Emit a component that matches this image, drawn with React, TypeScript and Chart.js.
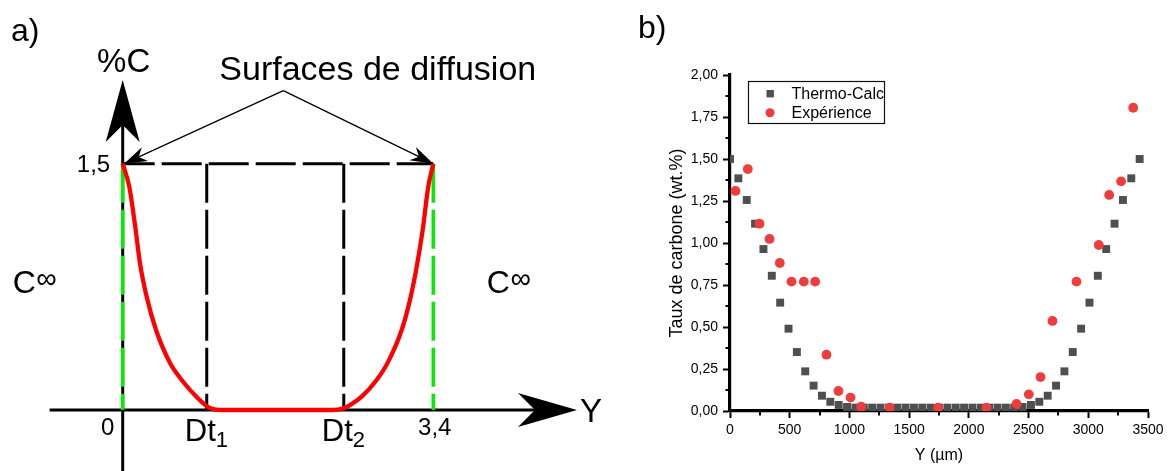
import React, { useEffect, useRef } from 'react';
import { Chart, registerables } from 'chart.js';

Chart.register(...registerables);

const FONT = "'Liberation Sans', Arial, Helvetica, sans-serif";

// ---------------- Panel a : schematic carbon profile ----------------
const profileX = [0, 0.072, 0.142, 0.189, 0.263, 0.365, 0.518, 0.646, 0.81, 0.937, 1.087, 2.302, 2.415, 2.488, 2.616, 2.78, 2.897, 3.054, 3.153, 3.225, 3.284, 3.345, 3.4];
const profileY = [1.5, 1.36, 1.096, 0.895, 0.688, 0.487, 0.286, 0.183, 0.079, 0.018, 0, 0, 0.01, 0.03, 0.081, 0.183, 0.284, 0.487, 0.69, 0.893, 1.096, 1.36, 1.5];
const schemaMarkX = [0, 0.92, 2.42, 3.4];
const schemaMarkText = ['0', 'Dt', 'Dt', '3,4'];
const schemaMarkSub = ['', '1', '2', ''];
const surfaceLevel = 1.5;
const surfaceLevelText = '1,5';
const schemaAxisNames = ['%C', 'Y'];
const farFieldText = 'C';
const farFieldSup = '∞';
const surfaceTitle = 'Surfaces de diffusion';
const annotationApex = [1.758, 1.945];
const annotationTipsX = [0.015, 3.4];
const schemaAxisX = [-0.8, 4.973];
const schemaAxisY = [-0.38, 2.01];
const schemaViewX = [-1.3432, 5.444];
const schemaViewY = [-0.3715, 2.497];

// ---------------- Panel b : measured vs computed profile ----------------
const thermoX = [0, 70, 140, 210, 280, 350, 420, 490, 560, 630, 700, 770, 840, 910, 980, 1050, 1120, 1190, 1260, 1330, 1400, 1470, 1540, 1610, 1680, 1750, 1820, 1890, 1960, 2030, 2100, 2170, 2240, 2310, 2380, 2450, 2520, 2590, 2660, 2730, 2800, 2870, 2940, 3010, 3080, 3150, 3220, 3290, 3360, 3430];
const thermoY = [1.5, 1.385, 1.256, 1.115, 0.964, 0.805, 0.645, 0.49, 0.351, 0.236, 0.151, 0.091, 0.055, 0.036, 0.024,
  0.02, 0.02, 0.02, 0.02, 0.02, 0.02, 0.02, 0.02, 0.02, 0.02, 0.02, 0.02, 0.02, 0.02, 0.02, 0.02, 0.02, 0.02, 0.02, 0.02,
  0.024, 0.036, 0.055, 0.091, 0.151, 0.236, 0.351, 0.49, 0.645, 0.805, 0.964, 1.115, 1.256, 1.385, 1.5];
const expX = [46, 149, 247, 331, 417, 515, 618, 713, 808, 908, 1009, 1098, 1338, 1743, 2148, 2399, 2502, 2600, 2700, 2901, 3088, 3175, 3275, 3376];
const expY = [1.31, 1.44, 1.115, 1.024, 0.881, 0.77, 0.77, 0.77, 0.335, 0.119, 0.08, 0.026, 0.02, 0.02, 0.02, 0.042, 0.099, 0.202, 0.536, 0.77, 0.988, 1.286, 1.367, 1.805];
const seriesNames = ['Thermo-Calc', 'Expérience'];
const xTicks = [0, 500, 1000, 1500, 2000, 2500, 3000, 3500];
const xTickLabels = ['0', '500', '1000', '1500', '2000', '2500', '3000', '3500'];
const yTicks = [0, 0.25, 0.5, 0.75, 1, 1.25, 1.5, 1.75, 2];
const yTickLabels = ['0,00', '0,25', '0,50', '0,75', '1,00', '1,25', '1,50', '1,75', '2,00'];
const xTitle = 'Y (µm)';
const yTitle = 'Taux de carbone (wt.%)';

const GREEN = '#00ee00';
const RED_LINE = '#ff0000';
const GRAY = '#4f4f4f';
const RED_PT = '#f03c3c';

const pts = (xs: number[], ys: number[]) => xs.map((x, i) => ({ x, y: ys[i] }));

function lineDs(data: any[], color: string, width: number, order: number, dash: number[] = [], dashOffset = 0) {
  return {
    data,
    showLine: true,
    borderColor: color,
    backgroundColor: color,
    borderWidth: width,
    borderDash: dash,
    borderDashOffset: dashOffset,
    borderCapStyle: 'butt',
    pointRadius: 0,
    pointHoverRadius: 0,
    tension: 0,
    order,
    clip: false,
  };
}

function stealth(ctx: CanvasRenderingContext2D, tx: number, ty: number, ux: number, uy: number, len: number, half: number, notch: number) {
  const bx = tx - ux * len;
  const by = ty - uy * len;
  const nx = -uy;
  const ny = ux;
  ctx.beginPath();
  ctx.moveTo(tx, ty);
  ctx.lineTo(bx + nx * half, by + ny * half);
  ctx.lineTo(tx - ux * notch, ty - uy * notch);
  ctx.lineTo(bx - nx * half, by - ny * half);
  ctx.closePath();
  ctx.fill();
}

function PanelA() {
  const ref = useRef<HTMLCanvasElement>(null);
  useEffect(() => {
    const canvas = ref.current!;
    const [dt1, dt2] = [schemaMarkX[1], schemaMarkX[2]];
    const right = schemaMarkX[3];
    const datasets: any[] = [
      { ...lineDs(pts(profileX, profileY), RED_LINE, 4.3, 0), cubicInterpolationMode: 'monotone', borderJoinStyle: 'round' },
      lineDs([{ x: 0, y: surfaceLevel }, { x: 0, y: 0 }], GREEN, 3.5, 1, [39, 7]),
      lineDs([{ x: right, y: surfaceLevel }, { x: right, y: 0 }], GREEN, 3.5, 1, [39, 7]),
      lineDs([{ x: 0, y: surfaceLevel }, { x: right, y: surfaceLevel }], '#000', 3, 2, [40, 7], 8),
      lineDs([{ x: dt1, y: surfaceLevel }, { x: dt1, y: 0 }], '#000', 3, 2, [39, 7]),
      lineDs([{ x: dt2, y: surfaceLevel }, { x: dt2, y: 0 }], '#000', 3, 2, [39, 7]),
      lineDs([{ x: 0, y: schemaAxisY[0] }, { x: 0, y: schemaAxisY[1] - 0.15 }], '#000', 3, 3),
      lineDs([{ x: schemaAxisX[0], y: 0 }, { x: schemaAxisX[1] - 0.2, y: 0 }], '#000', 3, 3),
      lineDs([{ x: annotationApex[0], y: annotationApex[1] }, { x: annotationTipsX[0], y: surfaceLevel }], '#000', 1.3, 1),
      lineDs([{ x: annotationApex[0], y: annotationApex[1] }, { x: annotationTipsX[1], y: surfaceLevel }], '#000', 1.3, 1),
    ];

    const deco = {
      id: 'schemaDeco',
      afterDatasetsDraw(chart: any) {
        const ctx: CanvasRenderingContext2D = chart.ctx;
        const X = (v: number) => chart.scales.x.getPixelForValue(v);
        const Y = (v: number) => chart.scales.y.getPixelForValue(v);
        ctx.save();
        ctx.fillStyle = '#000';
        // axis arrowheads
        stealth(ctx, X(0), Y(schemaAxisY[1]), 0, -1, 62, 17, 45);
        stealth(ctx, X(schemaAxisX[1]), Y(0), 1, 0, 59, 17, 42);
        // annotation arrowheads
        const ax = X(annotationApex[0]);
        const ay = Y(annotationApex[1]);
        annotationTipsX.forEach((tv) => {
          const tx = X(tv);
          const ty = Y(surfaceLevel);
          const d = Math.hypot(tx - ax, ty - ay);
          stealth(ctx, tx, ty, (tx - ax) / d, (ty - ay) / d, 23, 7.5, 16);
        });
        ctx.textBaseline = 'alphabetic';
        // panel label
        ctx.textAlign = 'left';
        ctx.font = `32px ${FONT}`;
        ctx.fillText('a)', 11, 41);
        // axis names
        ctx.font = `33px ${FONT}`;
        ctx.textAlign = 'center';
        ctx.fillText(schemaAxisNames[0], X(0) + 1, Y(schemaAxisY[1]) - 8);
        ctx.textAlign = 'left';
        ctx.fillText(schemaAxisNames[1], X(schemaAxisX[1]) + 3, Y(0) + 12);
        // title
        ctx.font = `34px ${FONT}`;
        ctx.fillText(surfaceTitle, ax - 64, ay - 10.7);
        // level label
        ctx.font = `24px ${FONT}`;
        ctx.textAlign = 'right';
        ctx.fillText(surfaceLevelText, X(0) - 12.5, Y(surfaceLevel) + 8);
        // marks under the axis
        schemaMarkX.forEach((v, i) => {
          const sub = schemaMarkSub[i];
          if (!sub) {
            ctx.font = `24px ${FONT}`;
            ctx.textAlign = 'center';
            const dx = i === 0 ? -15 : 1.5;
            ctx.fillText(schemaMarkText[i], X(v) + dx, Y(0) + 25);
          } else {
            ctx.font = `31px ${FONT}`;
            ctx.textAlign = 'left';
            const w1 = ctx.measureText(schemaMarkText[i]).width;
            const left = X(v) - 22;
            ctx.fillText(schemaMarkText[i], left, Y(0) + 30.5);
            ctx.font = `22px ${FONT}`;
            ctx.fillText(sub, left + w1, Y(0) + 37);
          }
        });
        // far-field concentration labels
        [X(0) - 110, X(right) + 53.5].forEach((lx) => {
          ctx.textAlign = 'left';
          ctx.font = `32px ${FONT}`;
          ctx.fillText(farFieldText, lx, Y(0) - 116.7);
          const w = ctx.measureText(farFieldText).width;
          ctx.font = `29px ${FONT}`;
          ctx.fillText(farFieldSup, lx + w + 0.5, Y(0) - 122);
        });
        ctx.restore();
      },
    };

    const chart = new Chart(canvas, {
      type: 'scatter',
      data: { datasets },
      options: {
        animation: false,
        responsive: false,
        maintainAspectRatio: false,
        events: [],
        layout: { padding: 0, autoPadding: false },
        plugins: { legend: { display: false }, tooltip: { enabled: false } },
        scales: {
          x: { type: 'linear', display: false, min: schemaViewX[0], max: schemaViewX[1] },
          y: { type: 'linear', display: false, min: schemaViewY[0], max: schemaViewY[1] },
        },
      },
      plugins: [deco],
    } as any);
    return () => chart.destroy();
  }, []);
  return <canvas ref={ref} width={620} height={471} style={{ position: 'absolute', left: 0, top: 0, width: 620, height: 471 }} />;
}

function PanelB() {
  const ref = useRef<HTMLCanvasElement>(null);
  useEffect(() => {
    const canvas = ref.current!;
    const deco = {
      id: 'plotDeco',
      afterDraw(chart: any) {
        const ctx: CanvasRenderingContext2D = chart.ctx;
        const xs = chart.scales.x;
        const ys = chart.scales.y;
        const a = chart.chartArea;
        ctx.save();
        ctx.strokeStyle = '#000';
        ctx.lineWidth = 2;
        ctx.beginPath();
        for (let i = 0; i < xTicks.length - 1; i++) {
          const p = Math.round(xs.getPixelForValue((xTicks[i] + xTicks[i + 1]) / 2));
          ctx.moveTo(p, a.bottom);
          ctx.lineTo(p, a.bottom + 4.5);
        }
        for (let i = 0; i < yTicks.length - 1; i++) {
          const p = Math.round(ys.getPixelForValue((yTicks[i] + yTicks[i + 1]) / 2));
          ctx.moveTo(a.left, p);
          ctx.lineTo(a.left - 4.5, p);
        }
        ctx.stroke();
        // legend
        const lx = 128;
        const ly = 81.5;
        ctx.lineWidth = 1.2;
        ctx.strokeStyle = '#111';
        ctx.strokeRect(lx + 0.5, ly, 136, 42);
        const rows = [93.7, 112.8];
        const ds = chart.data.datasets;
        ctx.fillStyle = ds[0].backgroundColor;
        ctx.fillRect(lx + 18.5, rows[0] - 3.7, 7.4, 7.4);
        ctx.fillStyle = ds[1].backgroundColor;
        ctx.beginPath();
        ctx.arc(lx + 22, rows[1], 4.5, 0, Math.PI * 2);
        ctx.fill();
        ctx.fillStyle = '#000';
        ctx.font = `16px ${FONT}`;
        ctx.textAlign = 'left';
        ctx.textBaseline = 'middle';
        ctx.fillText(ds[0].label, lx + 43.5, rows[0] + 0.5);
        ctx.fillText(ds[1].label, lx + 43.5, rows[1] + 0.5);
        // panel label
        ctx.textBaseline = 'alphabetic';
        ctx.font = `32px ${FONT}`;
        ctx.fillText('b)', 18, 38);
        ctx.restore();
      },
    };

    const chart = new Chart(canvas, {
      type: 'scatter',
      data: {
        datasets: [
          {
            label: seriesNames[0],
            data: pts(thermoX, thermoY),
            pointStyle: 'rect',
            pointRadius: 5.6,
            pointHoverRadius: 5.6,
            backgroundColor: GRAY,
            borderColor: GRAY,
            borderWidth: 0,
            order: 2,
          },
          {
            label: seriesNames[1],
            data: pts(expX, expY),
            pointStyle: 'circle',
            pointRadius: 4.9,
            pointHoverRadius: 4.9,
            backgroundColor: RED_PT,
            borderColor: RED_PT,
            borderWidth: 0,
            order: 1,
          },
        ],
      },
      options: {
        animation: false,
        responsive: false,
        maintainAspectRatio: false,
        events: [],
        layout: { padding: { left: 0, right: 21, top: 75, bottom: 0 }, autoPadding: false },
        plugins: { legend: { display: false }, tooltip: { enabled: false } },
        scales: {
          x: {
            type: 'linear',
            min: 0,
            max: 3500,
            z: 1,
            afterBuildTicks: (s: any) => { s.ticks = xTicks.map((v) => ({ value: v })); },
            afterFit: (s: any) => { s.height = 60; },
            ticks: {
              callback: (v: any) => xTickLabels[xTicks.indexOf(Number(v))],
              font: { family: FONT, size: 14 },
              color: '#000',
              padding: 4,
              maxRotation: 0,
              autoSkip: false,
            },
            grid: { drawOnChartArea: false, tickLength: 7, tickWidth: 2, tickColor: '#000', color: '#000' },
            border: { display: true, color: '#000', width: 3.2 },
            title: { display: true, text: xTitle, color: '#000', font: { family: FONT, size: 16 }, padding: { top: 0, bottom: 6 } },
          },
          y: {
            type: 'linear',
            min: 0,
            max: 2,
            z: 1,
            afterBuildTicks: (s: any) => { s.ticks = yTicks.map((v) => ({ value: v })); },
            afterFit: (s: any) => { s.width = 110; },
            ticks: {
              callback: (v: any) => yTickLabels[yTicks.indexOf(Number(v))],
              font: { family: FONT, size: 14 },
              color: '#000',
              padding: 5,
              autoSkip: false,
            },
            grid: { drawOnChartArea: false, tickLength: 7, tickWidth: 2, tickColor: '#000', color: '#000' },
            border: { display: true, color: '#000', width: 3.2 },
            title: { display: true, text: yTitle, color: '#000', font: { family: FONT, size: 18 }, padding: { top: 46, bottom: 0 } },
          },
        },
      },
      plugins: [deco],
    } as any);
    return () => chart.destroy();
  }, []);
  return <canvas ref={ref} width={549} height={471} style={{ position: 'absolute', left: 620, top: 0, width: 549, height: 471 }} />;
}

export default function App() {
  return (
    <div style={{ position: 'absolute', left: 0, top: 0, width: 1169, height: 471, background: '#fff', overflow: 'hidden' }}>
      <PanelA />
      <PanelB />
    </div>
  );
}
